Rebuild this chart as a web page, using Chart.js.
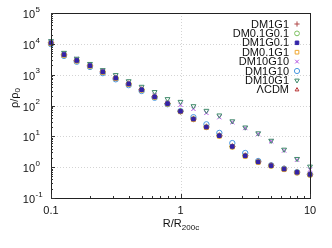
<!DOCTYPE html>
<html>
<head>
<meta charset="utf-8">
<script src="https://cdn.jsdelivr.net/npm/chart.js@4.4.1/dist/chart.umd.min.js"></script>
<style>
  html, body { margin: 0; padding: 0; background: #fff; }
  #wrap { width: 332px; height: 248px; }
</style>
</head>
<body>
<div id="wrap"><canvas id="c" width="332" height="248"></canvas></div>
<script>
// ── DATA ──────────────────────────────────────────────────────────
const radius = [0.1, 0.126, 0.158, 0.2, 0.251, 0.316, 0.398, 0.501, 0.631, 0.794,
  1, 1.259, 1.585, 1.995, 2.512, 3.162, 3.981, 5.012, 6.31, 7.943, 10];

const seriesNames = ['DM1G1', 'DM0.1G0.1', 'DM1G0.1', 'DM0.1G1', 'DM10G10', 'DM1G10', 'DM10G1', 'ΛCDM'];

const dm1g1 = [10900, 4500, 2900, 1960, 1240, 780, 505, 326, 192, 116, 65, 36.6, 20.2, 10.6, 4.7, 2.36, 1.49, 1.13, 0.88, 0.69, 0.59];
const dm01g01 = [10500, 4400, 2850, 1930, 1220, 770, 498, 322, 190, 114, 64, 36, 19.8, 10.4, 4.62, 2.32, 1.47, 1.11, 0.86, 0.67, 0.57];
const dm1g01 = [10700, 4470, 2880, 1950, 1230, 776, 500, 324, 191, 115, 64.6, 36.3, 20.0, 10.5, 4.68, 2.34, 1.48, 1.12, 0.87, 0.68, 0.58];
const dm01g1 = [10300, 4300, 2800, 1900, 1200, 760, 490, 318, 188, 113, 63.5, 35.5, 19.5, 10.2, 4.55, 2.28, 1.45, 1.1, 0.85, 0.66, 0.56];
const dm10g10 = [12000, 5010, 3240, 2190, 1380, 871, 562, 363, 214, 123, 105, 77.6, 57.5, 41.7, 28.8, 18.6, 12.0, 6.92, 3.47, 1.74, 0.83];
const dm1g10 = [9770, 4070, 2630, 1780, 1120, 708, 457, 295, 178, 110, 66.1, 41.7, 24.5, 12.9, 6.03, 2.88, 1.58, 1.15, 0.89, 0.69, 0.58];
const dm10g1 = [12300, 5130, 3310, 2240, 1410, 977, 617, 407, 275, 162, 132, 95.5, 67.6, 47.9, 30.9, 19.5, 12.6, 7.24, 3.72, 1.86, 1.05];
const lcdm = [10800, 4480, 2890, 1955, 1235, 778, 502, 325, 192, 115.5, 65, 36.5, 20.1, 10.5, 4.7, 2.35, 1.48, 1.12, 0.87, 0.68, 0.58];

const xTicks = [0.1, 1, 10];
const xTickLabels = ['0.1', '1', '10'];
const yExponents = [5, 4, 3, 2, 1, 0, -1];

const FONT = '"Liberation Sans", Arial, sans-serif';

// marker look per series (z: higher is drawn later / on top)
const styles = [
  { pointStyle: 'cross',    color: '#b04848', fill: false, r: 3.2, z: 1 },
  { pointStyle: 'circle',   color: '#7cc060', fill: false, r: 2.4, z: 2 },
  { pointStyle: 'rect',     color: '#3324a8', fill: true,  r: 2.5, z: 8 },
  { pointStyle: 'rect',     color: '#f0a830', fill: false, r: 2.9, z: 3 },
  { pointStyle: 'crossRot', color: '#b050e0', fill: false, r: 3.0, z: 5 },
  { pointStyle: 'circle',   color: '#4898e0', fill: false, r: 2.7, z: 0 },
  { pointStyle: 'triangle', color: '#3f8a6a', fill: false, r: 2.8, z: 6, rot: 180 },
  { pointStyle: 'triangle', color: '#b83434', fill: false, r: 2.2, z: 4 },
];

const values = [dm1g1, dm01g01, dm1g01, dm01g1, dm10g10, dm1g10, dm10g1, lcdm];

const datasets = values.map((arr, i) => ({
  label: seriesNames[i],
  data: radius.map((r, k) => ({ x: r, y: arr[k] })),
  pointStyle: styles[i].pointStyle,
  pointRadius: styles[i].r,
  pointRotation: styles[i].rot || 0,
  borderColor: styles[i].color,
  backgroundColor: styles[i].fill ? styles[i].color : 'rgba(0,0,0,0)',
  pointBorderWidth: 1,
  showLine: false,
  clip: false,
  order: 10 - styles[i].z,
}));

const isMajor = v => Math.abs(Math.log10(v) - Math.round(Math.log10(v))) < 1e-6;

function minorValues(min, max) {
  const out = [];
  for (let e = Math.floor(Math.log10(min)); e < Math.ceil(Math.log10(max)); e++) {
    for (let m = 1; m < 10; m++) {
      const v = m * Math.pow(10, e);
      if (v >= min * 0.999 && v <= max * 1.001) out.push(v);
    }
  }
  out.push(max);
  return out;
}

// ── DECORATION PLUGIN (gnuplot look) ──────────────────────────────
const gnuplotLook = {
  id: 'gnuplotLook',
  beforeDatasetsDraw(chart) {
    const { ctx, chartArea: a, scales: { x, y } } = chart;
    ctx.save();
    ctx.strokeStyle = '#d4d4d4';
    ctx.lineWidth = 1;
    ctx.setLineDash([1, 2]);
    yExponents.forEach(e => {
      const py = Math.round(y.getPixelForValue(Math.pow(10, e))) + 0.5;
      ctx.beginPath(); ctx.moveTo(a.left, py); ctx.lineTo(a.right, py); ctx.stroke();
    });
    xTicks.forEach(v => {
      const px = Math.round(x.getPixelForValue(v)) + 0.5;
      ctx.beginPath(); ctx.moveTo(px, a.top); ctx.lineTo(px, a.bottom); ctx.stroke();
    });
    ctx.restore();
  },
  afterDraw(chart) {
    const { ctx, chartArea: a, scales: { x, y } } = chart;
    ctx.save();
    // frame
    ctx.strokeStyle = '#222';
    ctx.lineWidth = 1;
    ctx.strokeRect(Math.round(a.left) + 0.5, Math.round(a.top) + 0.5,
      Math.round(a.right - a.left), Math.round(a.bottom - a.top));

    // inward ticks
    ctx.strokeStyle = '#333';
    minorValues(0.1, 1e5).forEach(v => {
      const py = Math.round(y.getPixelForValue(v)) + 0.5;
      const len = isMajor(v) ? 4 : 2;
      ctx.beginPath(); ctx.moveTo(a.left, py); ctx.lineTo(a.left + len, py); ctx.stroke();
    });
    minorValues(0.1, 10).forEach(v => {
      const px = Math.round(x.getPixelForValue(v)) + 0.5;
      const len = isMajor(v) ? 4 : 2;
      ctx.beginPath(); ctx.moveTo(px, a.bottom); ctx.lineTo(px, a.bottom - len); ctx.stroke();
    });

    ctx.fillStyle = '#111';
    // y tick labels 10^n
    yExponents.forEach(e => {
      const py = y.getPixelForValue(Math.pow(10, e));
      ctx.font = '11px ' + FONT;
      ctx.textAlign = 'right';
      ctx.textBaseline = 'middle';
      ctx.fillText('10', 35, py + 2);
      ctx.font = '8px ' + FONT;
      ctx.textAlign = 'left';
      ctx.fillText(String(e), 35.5, py - 3.5);
    });
    // x tick labels
    ctx.font = '11px ' + FONT;
    ctx.textAlign = 'center';
    ctx.textBaseline = 'middle';
    xTicks.forEach((v, i) => ctx.fillText(xTickLabels[i], x.getPixelForValue(v), 211));

    // x title R/R200c
    ctx.textAlign = 'left';
    const main = 'R/R';
    ctx.font = '11px ' + FONT;
    const w1 = ctx.measureText(main).width;
    ctx.font = '8px ' + FONT;
    const w2 = ctx.measureText('200c').width;
    let tx = 181 - (w1 + w2) / 2;
    ctx.font = '11px ' + FONT;
    ctx.fillText(main, tx, 224);
    ctx.font = '8px ' + FONT;
    ctx.fillText('200c', tx + w1, 228);

    // y title rho/rho0
    ctx.save();
    ctx.translate(15, 98);
    ctx.rotate(-Math.PI / 2);
    ctx.font = '11px ' + FONT;
    const r1 = 'ρ/ρ';
    const rw = ctx.measureText(r1).width;
    ctx.font = '8px ' + FONT;
    const rw2 = ctx.measureText('0').width;
    ctx.font = '11px ' + FONT;
    ctx.fillText(r1, -(rw + rw2) / 2, 0);
    ctx.font = '8px ' + FONT;
    ctx.fillText('0', -(rw + rw2) / 2 + rw, 3);
    ctx.restore();

    // legend, text right-aligned, marker to its right
    ctx.font = '11px ' + FONT;
    ctx.textAlign = 'right';
    ctx.textBaseline = 'middle';
    chart.data.datasets.forEach((ds, i) => {
      const ly = 24 + i * 9.4;
      ctx.fillStyle = '#111';
      ctx.fillText(ds.label, 289, ly + 0.5);
      const st = styles[i];
      ctx.strokeStyle = st.color;
      ctx.fillStyle = st.fill ? st.color : 'rgba(0,0,0,0)';
      ctx.lineWidth = 1;
      Chart.helpers.drawPoint(ctx, {
        pointStyle: st.pointStyle, radius: Math.min(st.r, 2.6), rotation: st.rot || 0, borderWidth: 1
      }, 297, ly);
    });
    ctx.restore();
  }
};

new Chart(document.getElementById('c'), {
  type: 'scatter',
  data: { datasets },
  options: {
    responsive: false,
    animation: false,
    layout: { padding: { left: 51, right: 22, top: 13, bottom: 50 } },
    plugins: { legend: { display: false }, tooltip: { enabled: false } },
    scales: {
      x: {
        type: 'logarithmic', min: 0.1, max: 10,
        ticks: { display: false }, grid: { display: false, drawTicks: false },
        border: { display: false }, title: { display: false },
      },
      y: {
        type: 'logarithmic', min: 0.1, max: 100000,
        ticks: { display: false }, grid: { display: false, drawTicks: false },
        border: { display: false }, title: { display: false },
      },
    },
  },
  plugins: [gnuplotLook],
});
</script>
</body>
</html>
